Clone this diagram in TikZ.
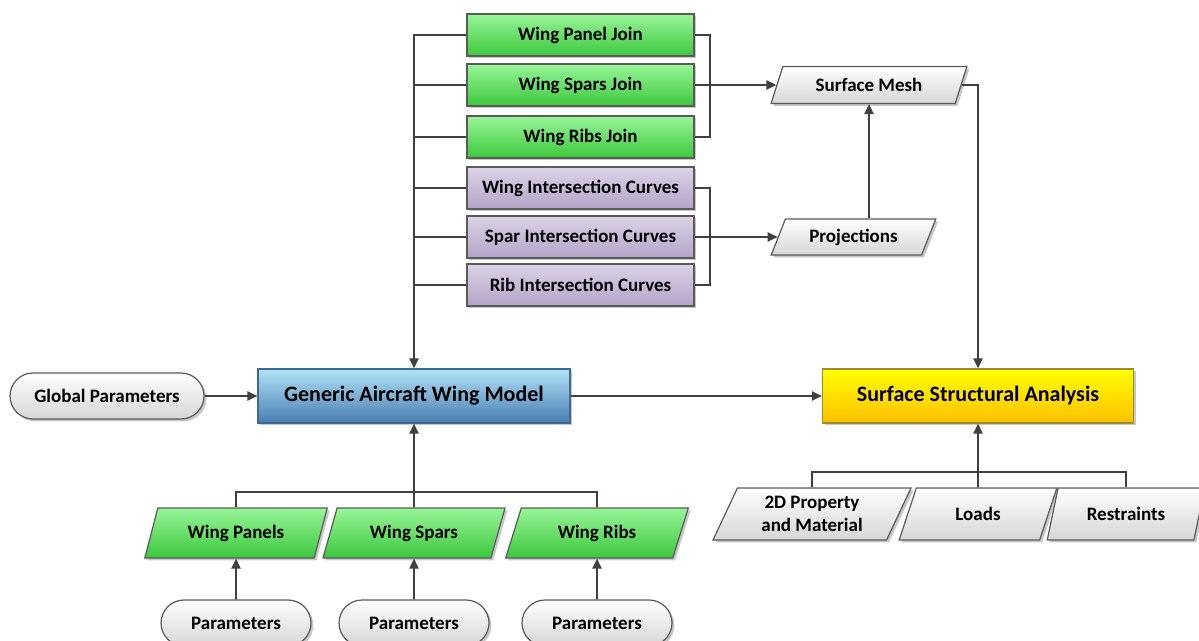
\documentclass[tikz,border=0pt]{standalone}
\usepackage{fontspec}
\setmainfont{Carlito}
\usetikzlibrary{arrows.meta,shapes.geometric,shapes.misc,shadows}

\definecolor{linec}{HTML}{404040}
\definecolor{edgec}{HTML}{5A5A5A}
\definecolor{gtop}{HTML}{98F598}
\definecolor{gbot}{HTML}{3CC83C}
\definecolor{ptop}{HTML}{DCD3E6}
\definecolor{pbot}{HTML}{B3A3C8}
\definecolor{btop}{HTML}{B0E2F6}
\definecolor{bbot}{HTML}{4A7EB2}
\definecolor{bedge}{HTML}{3E6A92}
\definecolor{ytop}{HTML}{FFFF00}
\definecolor{ybot}{HTML}{FFC000}
\definecolor{yedge}{HTML}{9C8C30}
\definecolor{gybot}{HTML}{D6D6D6}

\tikzset{
  shade/.style={drop shadow={shadow xshift=1.2pt,shadow yshift=-1.2pt,fill=black,opacity=0.22}},
  box/.style={rectangle,draw=edgec,line width=0.6pt,inner sep=0pt,
    minimum width=113.5pt,minimum height=21pt,shade},
  greenbox/.style={box,top color=gtop,bottom color=gbot},
  purplebox/.style={box,top color=ptop,bottom color=pbot},
  bigbox/.style={rectangle,line width=0.6pt,inner sep=0pt,
    minimum height=27pt,shade,font=\bfseries\fontsize{11}{13}\selectfont},
  para/.style={trapezium,trapezium stretches=true,draw=edgec,line width=0.6pt,
    inner sep=0pt,shade,align=center},
  graypara/.style={para,top color=white,bottom color=gybot},
  greenpara/.style={para,top color=gtop,bottom color=gbot},
  pill/.style={rounded rectangle,draw=edgec,line width=0.6pt,inner sep=0pt,
    top color=white,bottom color=gybot,minimum height=23pt,shade},
  conn/.style={draw=linec,line width=0.95pt},
  arr/.style={conn,-{Triangle[length=5pt,width=4.6pt]}}
}

\begin{document}
\begin{tikzpicture}[x=0.5pt,y=-0.5pt,font=\bfseries\fontsize{9.5}{11.5}\selectfont]
\useasboundingbox (0,0) rectangle (1199,641);

% join boxes
\node[greenbox] (wpj) at (580.5,35)  {Wing Panel Join};
\node[greenbox] (wsj) at (580.5,85)  {Wing Spars Join};
\node[greenbox] (wrj) at (580.5,137) {Wing Ribs Join};
% intersection curve boxes
\node[purplebox] (wic) at (580.5,188) {Wing Intersection Curves};
\node[purplebox] (sic) at (580.5,237) {Spar Intersection Curves};
\node[purplebox] (ric) at (580.5,285) {Rib Intersection Curves};

% mesh and projections
\node[graypara,trapezium left angle=61.6,trapezium right angle=118.4,
      minimum width=98.5pt,minimum height=18.5pt] (sm) at (869,85) {Surface Mesh};
\node[graypara,trapezium left angle=61,trapezium right angle=119,
      minimum width=82.5pt,minimum height=18pt] (pr) at (853.5,237) {Projections};

% main row
\node[pill,minimum width=97pt] (gp) at (107,396) {Global Parameters};
\node[bigbox,draw=bedge,top color=btop,bottom color=bbot,minimum width=156pt]
      (gen) at (414,396) {Generic Aircraft Wing Model};
\node[bigbox,draw=yedge,top color=ytop,bottom color=ybot,minimum width=155.5pt]
      (ssa) at (978,396) {Surface Structural Analysis};

% wing component inputs
\node[greenpara,trapezium left angle=64,trapezium right angle=116,
      minimum width=91.5pt,minimum height=25pt] (wp) at (236,533) {Wing Panels};
\node[greenpara,trapezium left angle=64,trapezium right angle=116,
      minimum width=91.5pt,minimum height=25pt] (ws) at (414,533) {Wing Spars};
\node[greenpara,trapezium left angle=64,trapezium right angle=116,
      minimum width=91.5pt,minimum height=25pt] (wr) at (597,533) {Wing Ribs};

\node[pill,minimum width=75pt] (p1) at (236,623) {Parameters};
\node[pill,minimum width=75pt] (p2) at (414,623) {Parameters};
\node[pill,minimum width=75pt] (p3) at (597,623) {Parameters};

% analysis inputs
\node[graypara,trapezium left angle=65,trapezium right angle=115,
      minimum width=99.5pt,minimum height=26pt] (pm) at (812,514) {2D Property\\and Material};
\node[graypara,trapezium left angle=65,trapezium right angle=115,
      minimum width=79pt,minimum height=26pt] (ld) at (978,514) {Loads};
\node[graypara,trapezium left angle=65,trapezium right angle=115,
      minimum width=79pt,minimum height=26pt] (rs) at (1126,514) {Restraints};

% junction points
\coordinate (jx) at (710,0);
\coordinate (lb) at (414,492);
\coordinate (rb) at (978,472);

% left bus into the wing model
\draw[arr] (wpj.west) -| (gen.north);
\foreach \b in {wsj,wrj,wic,sic,ric}
  \draw[conn] (\b.west) -- (\b.west -| gen.north);

% right brackets
\draw[conn] (wpj.east) -| (jx |- wrj.east) -- (wrj.east);
\draw[arr] (wsj.east) -- (sm.west |- wsj.east);
\draw[conn] (wic.east) -| (jx |- ric.east) -- (ric.east);
\draw[arr] (sic.east) -- (pr.west |- sic.east);
\draw[arr] (sm.south |- pr.north) -- (sm.south);
\draw[arr] (sm.east) -| (ssa.north);

% main flow
\draw[arr] (gp.east) -- (gen.west);
\draw[arr] (gen.east) -- (ssa.west);

% components
\draw[conn] (wp.north) |- (lb) -| (wr.north);
\draw[arr] (ws.north) -- (gen.south);
\draw[arr] (p1.north) -- (wp.south);
\draw[arr] (p2.north) -- (ws.south);
\draw[arr] (p3.north) -- (wr.south);

% analysis inputs
\draw[conn] (pm.north) |- (rb) -| (rs.north);
\draw[arr] (ld.north) -- (ssa.south);
\end{tikzpicture}
\end{document}
